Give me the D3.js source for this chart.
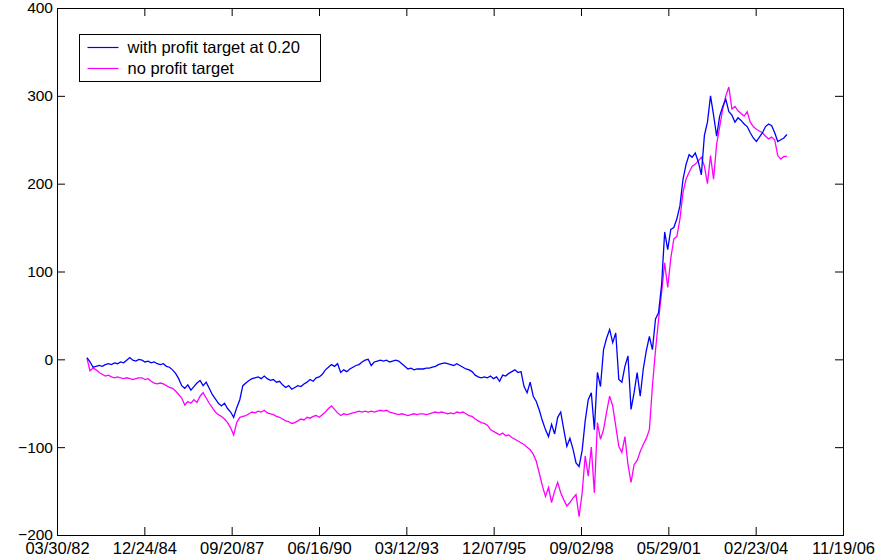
<!DOCTYPE html>
<html>
<head>
<meta charset="utf-8">
<script src="https://cdn.jsdelivr.net/npm/d3@7"></script>
<style>
  body { margin: 0; background: #fff; }
  svg { display: block; }
  text { font-family: Arial, "Liberation Sans", sans-serif; fill: #000; }
</style>
</head>
<body>
<svg id="chart" width="888" height="556"></svg>
<script>
// Cumulative P&L, sampled every 35 calendar days from the first date.
const startDate = "03/08/83";
const stepDays = 35;

const withTarget = [
  2, -3, -9, -8, -7, -8, -6, -5, -6, -4,
  -5, -3, -4, -1, 2, -1, -2, 0, -1, -3,
  -2, -4, -3, -5, -6, -5, -8, -9, -12, -16,
  -22, -30, -33, -29, -35, -31, -27, -24, -30, -26,
  -33, -40, -45, -50, -53, -50, -56, -60, -66, -55,
  -46, -30, -27, -24, -22, -21, -20, -22, -19, -22,
  -24, -23, -26, -25, -29, -32, -30, -34, -32, -30,
  -31, -28, -26, -23, -25, -21, -20, -17, -12, -9,
  -6, -8, -5, -15, -12, -14, -11, -9, -7, -6,
  -3, -1, 0, -7, -3, -2, -1, -2, -1, -3,
  -2, -1, -2, -5, -8, -11, -10, -12, -11, -11,
  -11, -10, -10, -9, -8, -6, -5, -4, -5, -6,
  -7, -5, -7, -9, -11, -12, -14, -18, -20, -21,
  -20, -21, -19, -22, -20, -25, -18, -19, -16, -14,
  -12, -15, -14, -31, -38, -26, -42, -48, -58, -70,
  -80, -88, -74, -85, -66, -60, -80, -99, -90, -102,
  -118, -122, -104, -70, -46, -38, -80, -15, -31, 11,
  24, 34, 19, 30, -23, -26, -8, 4, -57, -38,
  -15, -42, -11, 10, 26, 11, 46, 53, 85, 145,
  125, 148, 150, 160, 175, 205, 222, 233, 230, 235,
  225, 210, 255, 270, 300, 278, 254, 277, 288, 296,
  282, 278, 270, 275, 272, 268, 265, 258, 252, 248,
  253, 258, 265, 268, 266, 258, 248, 250, 252, 256
];

const noTarget = [
  1, -13, -10, -12, -15, -17, -19, -18, -20, -21,
  -20, -21, -22, -21, -22, -23, -22, -21, -21, -23,
  -22, -25, -27, -28, -27, -28, -30, -32, -33, -36,
  -40, -44, -52, -48, -50, -46, -49, -42, -38, -44,
  -50, -55, -60, -63, -65, -68, -72, -78, -86, -72,
  -66, -65, -64, -62, -60, -61, -59, -60, -58, -61,
  -62, -63, -65, -66, -68, -70, -71, -73, -72, -70,
  -68, -69, -66, -67, -65, -64, -66, -63, -60, -56,
  -53, -57, -61, -64, -62, -63, -62, -61, -60, -59,
  -60, -59, -60, -59, -60, -59, -58, -59, -58, -60,
  -61, -62, -63, -62, -63, -64, -63, -62, -63, -62,
  -62, -63, -62, -61, -60, -61, -60, -61, -62, -61,
  -62, -60, -61, -60, -62, -64, -65, -68, -70, -72,
  -73, -75, -80, -82, -84, -86, -84, -87, -86, -89,
  -91, -93, -95, -97, -100, -103, -108, -116, -130, -144,
  -156, -146, -163, -150, -140, -152, -160, -167, -163, -158,
  -154, -179, -152, -110, -133, -100, -152, -72, -91, -80,
  -60, -42, -53, -76, -99, -106, -88, -120, -140, -120,
  -115, -105, -97, -90, -80, -30, 10, 45, 76, 110,
  82, 115, 137, 140, 160, 190, 205, 213, 220, 222,
  226, 230, 220, 200, 232, 205, 245, 265, 285, 300,
  310, 285, 288, 283, 280, 277, 282, 270, 265, 262,
  260, 258, 254, 251, 253, 250, 232, 228, 231, 231
];

const seriesNames = ["with profit target at 0.20", "no profit target"];
const seriesColors = ["#0000ff", "#ff00ff"];

const xTickLabels = ["03/30/82", "12/24/84", "09/20/87", "06/16/90", "03/12/93",
                     "12/07/95", "09/02/98", "05/29/01", "02/23/04", "11/19/06"];
const yTickValues = [-200, -100, 0, 100, 200, 300, 400];

const parseDate = d3.timeParse("%m/%d/%y");
const fmtDate = d3.timeFormat("%m/%d/%y");
const t0 = parseDate(startDate);
const dates = withTarget.map((_, i) => d3.timeDay.offset(t0, i * stepDays));
const xTickDates = xTickLabels.map(parseDate);

const svg = d3.select("#chart");
const margin = { left: 57, right: 45, top: 8, bottom: 21 };
const W = 888, H = 556;
const x0 = margin.left, x1 = W - margin.right, y0 = margin.top, y1 = H - margin.bottom;

const x = d3.scaleTime()
  .domain([xTickDates[0], xTickDates[xTickDates.length - 1]])
  .range([x0, x1]);
const y = d3.scaleLinear().domain([-200, 400]).range([y1, y0]);

const tickLen = 8;

// bottom axis with inward ticks
const gx = svg.append("g").attr("transform", `translate(0,${y1})`)
  .call(d3.axisBottom(x).tickValues(xTickDates).tickFormat(fmtDate)
    .tickSizeInner(-tickLen).tickSizeOuter(0).tickPadding(7));
// top axis, ticks only
const gxt = svg.append("g").attr("transform", `translate(0,${y0})`)
  .call(d3.axisTop(x).tickValues(xTickDates).tickFormat("")
    .tickSizeInner(-tickLen).tickSizeOuter(0));
// left axis
const gy = svg.append("g").attr("transform", `translate(${x0},0)`)
  .call(d3.axisLeft(y).tickValues(yTickValues).tickFormat(d3.format("d"))
    .tickSizeInner(-tickLen).tickSizeOuter(0).tickPadding(4));
// right axis, ticks only
const gyr = svg.append("g").attr("transform", `translate(${x1},0)`)
  .call(d3.axisRight(y).tickValues(yTickValues).tickFormat("")
    .tickSizeInner(-tickLen).tickSizeOuter(0));

[gx, gxt, gy, gyr].forEach(g => {
  g.selectAll(".domain").remove();
  g.selectAll("line").attr("stroke", "#000");
  g.selectAll("text")
    .attr("font-family", "Arial, 'Liberation Sans', sans-serif").attr("fill", "#000");
});
gx.selectAll("text").attr("font-size", "16.5px");
gy.selectAll("text").attr("font-size", "15.5px");

// plot frame
svg.append("rect")
  .attr("x", x0 + 0.5).attr("y", y0 + 0.5)
  .attr("width", x1 - x0).attr("height", y1 - y0)
  .attr("fill", "none").attr("stroke", "#000").attr("stroke-width", 1);

// series lines
svg.append("clipPath").attr("id", "plotclip")
  .append("rect").attr("x", x0).attr("y", y0).attr("width", x1 - x0).attr("height", y1 - y0);

const line = d3.line().x((d, i) => x(dates[i])).y(d => y(d));
const seriesData = [withTarget, noTarget];
// no-target series drawn first so the blue series sits on top where they overlap
[1, 0].forEach(k => {
  svg.append("path")
    .datum(seriesData[k])
    .attr("clip-path", "url(#plotclip)")
    .attr("fill", "none")
    .attr("stroke", seriesColors[k])
    .attr("stroke-width", 1.3)
    .attr("stroke-linejoin", "miter")
    .attr("d", line);
});

// legend
const lg = svg.append("g").attr("transform", "translate(79.5,34.5)");
lg.append("rect").attr("width", 241).attr("height", 47)
  .attr("fill", "#fff").attr("stroke", "#000").attr("stroke-width", 1);
seriesNames.forEach((name, i) => {
  const yy = 13 + i * 21;
  lg.append("line").attr("x1", 8).attr("x2", 39).attr("y1", yy).attr("y2", yy)
    .attr("stroke", seriesColors[i]).attr("stroke-width", 1.2);
  lg.append("text").attr("x", 48).attr("y", yy).attr("dy", "0.35em")
    .attr("font-size", "16.5px").text(name);
});
</script>
</body>
</html>
